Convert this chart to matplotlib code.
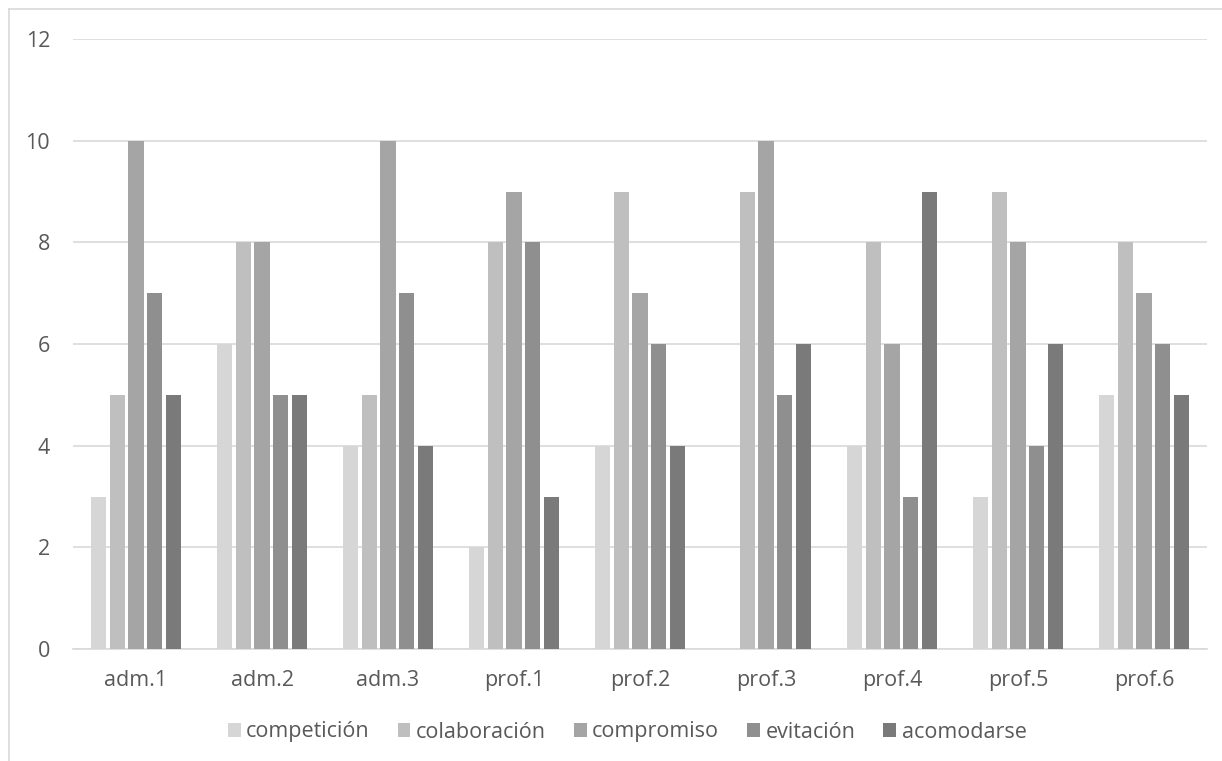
import numpy as np
import matplotlib
matplotlib.use("Agg")
import matplotlib.pyplot as plt
from matplotlib.lines import Line2D

# 数据
categories = ["adm.1", "adm.2", "adm.3", "prof.1", "prof.2", "prof.3", "prof.4", "prof.5", "prof.6"]
series_names = ["competición", "colaboración", "compromiso", "evitación", "acomodarse"]
competicion = [3, 6, 4, 2, 4, 0, 4, 3, 5]
colaboracion = [5, 8, 5, 8, 9, 9, 8, 9, 8]
compromiso = [10, 8, 10, 9, 7, 10, 6, 8, 7]
evitacion = [7, 5, 7, 8, 6, 5, 3, 4, 6]
acomodarse = [5, 5, 4, 3, 4, 6, 9, 6, 5]
y_ticks = [0, 2, 4, 6, 8, 10, 12]

series = [competicion, colaboracion, compromiso, evitacion, acomodarse]
colors = ["#D6D6D6", "#BFBFBF", "#A5A5A5", "#8F8F8F", "#7A7A7A"]

plt.rcParams['font.family'] = ['Open Sans', 'DejaVu Sans']
fs = 15.5

fig = plt.figure(figsize=(12.22, 7.61), dpi=100)
ax = fig.add_axes([73 / 1222, 1 - 649 / 761, (1207 - 73) / 1222, (649 - 39) / 761])

x = np.arange(len(categories))
slot = 0.148
width = 0.12
for i, (vals, name, c) in enumerate(zip(series, series_names, colors)):
    ax.bar(x + (i - 2) * slot, vals, width=width, color=c, label=name, zorder=3)

ax.set_xlim(-0.5, len(categories) - 0.5)
ax.set_ylim(0, 12)
ax.set_yticks(y_ticks)
ax.set_xticks(x)
ax.set_xticklabels(categories)
ax.tick_params(axis='both', length=0, labelsize=fs, colors="#595959")
ax.tick_params(axis='x', pad=15)
ax.tick_params(axis='y', pad=16.5)
ax.grid(axis='y', color="#D9D9D9", linewidth=1.2, zorder=0)
for s in ["top", "right", "left"]:
    ax.spines[s].set_visible(False)
ax.spines["bottom"].set_color("#D9D9D9")
ax.spines["bottom"].set_linewidth(1.2)

leg = fig.legend(loc="center", bbox_to_anchor=(627 / 1222, 1 - 732 / 761), ncol=5, frameon=False,
                 fontsize=fs, handlelength=0.6, handleheight=0.6, handletextpad=0.25,
                 columnspacing=1.3, borderaxespad=0)
for t in leg.get_texts():
    t.set_color("#595959")

# 外框
fig.add_artist(Line2D([9 / 1222, 9 / 1222], [0, 1 - 9 / 761], color="#D9D9D9", linewidth=1.2,
                      transform=fig.transFigure))
fig.add_artist(Line2D([9 / 1222, 1], [1 - 9 / 761, 1 - 9 / 761], color="#D9D9D9", linewidth=1.2,
                      transform=fig.transFigure))

fig.savefig("out.png", dpi=100)
